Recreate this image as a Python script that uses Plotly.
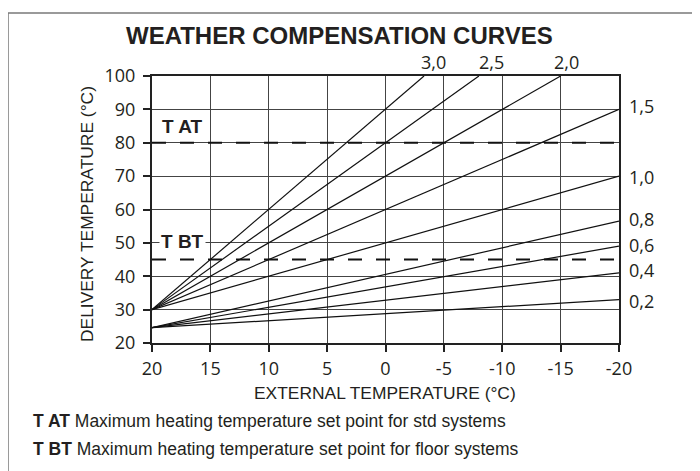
import plotly.graph_objects as go

# ---- data ----
curve_labels = ["3,0", "2,5", "2,0", "1,5", "1,0", "0,8", "0,6", "0,4", "0,2"]
curve_x_start = [20, 20, 20, 20, 20, 20, 20, 20, 20]
curve_y_start = [30, 30, 30, 30, 30, 24.6, 24.6, 24.6, 24.6]
curve_x_end = [-3.3, -8, -15, -20, -20, -20, -20, -20, -20]
curve_y_end = [100, 100, 100, 90, 70, 56.5, 49, 41, 33]

top_label_text = ["3,0", "2,5", "2,0"]
top_label_x = [-4.1, -9.1, -15.5]
right_label_text = ["1,5", "1,0", "0,8", "0,6", "0,4", "0,2"]
right_label_y = [91, 69.6, 57.3, 49.3, 41.8, 32.6]

limit_names = ["T AT", "T BT"]
limit_values = [80, 45]
limit_label_x = [17.4, 17.4]
limit_label_y = [84.9, 50.3]

x_ticks = [20, 15, 10, 5, 0, -5, -10, -15, -20]
y_ticks = [20, 30, 40, 50, 60, 70, 80, 90, 100]

title_text = "WEATHER COMPENSATION CURVES"
x_title = "EXTERNAL TEMPERATURE (°C)"
y_title = "DELIVERY TEMPERATURE (°C)"
notes = [("T AT", "Maximum heating temperature set point for std systems"),
         ("T BT", "Maximum heating temperature set point for floor systems")]

# ---- layout constants (page offset of 8px from the browser body margin) ----
OFF = 8
W, H = 700 - OFF, 471 - OFF
ML, MR, MT, MB = 152 - OFF, 81, 76 - OFF, 128
PW, PH = W - ML - MR, H - MT - MB
TXT = "#231f20"
NUM_FONT = "Open Sans, Noto Sans, sans-serif"
ARIAL = "Liberation Sans, Arial, sans-serif"
NARROW = "Liberation Sans Narrow, Arial Narrow, Liberation Sans, Arial, sans-serif"


def px_x(p):
    return (p - OFF - ML) / PW


def px_y(p):
    return (MT + PH - (p - OFF)) / PH


fig = go.Figure()

for i, name in enumerate(curve_labels):
    fig.add_trace(go.Scatter(
        x=[curve_x_start[i], curve_x_end[i]],
        y=[curve_y_start[i], curve_y_end[i]],
        mode="lines", line=dict(color="#111", width=1.2),
        name=name, showlegend=False, hoverinfo="skip"))

for i, v in enumerate(limit_values):
    fig.add_trace(go.Scatter(
        x=[x_ticks[0], x_ticks[-1]], y=[v, v], mode="lines",
        line=dict(color="#111", width=2, dash="14px,14px"),
        name=limit_names[i], showlegend=False, hoverinfo="skip"))

ann = []
ann.append(dict(text="<b>" + title_text + "</b>", xref="paper", yref="paper",
                x=px_x(339), y=px_y(35), xanchor="center", yanchor="middle",
                showarrow=False, font=dict(family=ARIAL, size=24, color=TXT)))
for t, xv in zip(top_label_text, top_label_x):
    ann.append(dict(text=t, xref="x", yref="paper", x=xv, y=px_y(62),
                    xanchor="center", yanchor="middle", showarrow=False,
                    font=dict(family=NUM_FONT, size=18, color=TXT)))
for t, yv in zip(right_label_text, right_label_y):
    ann.append(dict(text=t, xref="paper", yref="y", x=px_x(627), y=yv,
                    xanchor="left", yanchor="middle", showarrow=False,
                    font=dict(family=NUM_FONT, size=18, color=TXT)))
for n, xv, yv in zip(limit_names, limit_label_x, limit_label_y):
    ann.append(dict(text="<b>" + n + "</b>", xref="x", yref="y", x=xv, y=yv,
                    xanchor="center", yanchor="middle", showarrow=False,
                    bgcolor="white", borderpad=1,
                    font=dict(family=NARROW, size=19, color=TXT)))
ann.append(dict(text=y_title, xref="paper", yref="paper", x=px_x(87),
                y=px_y(214), xanchor="center", yanchor="middle", textangle=-90,
                showarrow=False, font=dict(family=ARIAL, size=17.4, color=TXT)))
ann.append(dict(text=x_title, xref="paper", yref="paper", x=px_x(385),
                y=px_y(393), xanchor="center", yanchor="middle",
                showarrow=False, font=dict(family=ARIAL, size=17.4, color=TXT)))
for k, (b, rest) in enumerate(notes):
    ann.append(dict(text="<b>" + b + "</b> " + rest, xref="paper", yref="paper",
                    x=px_x(31), y=px_y(421 + 28 * k), xanchor="left",
                    yanchor="middle", showarrow=False,
                    font=dict(family=ARIAL, size=17.5, color=TXT)))

axis_common = dict(showgrid=True, gridcolor="#444", gridwidth=1,
                   zeroline=False, showline=True, mirror=True,
                   linecolor="#222", linewidth=2, ticks="outside", ticklen=7,
                   tickcolor="#222", tickwidth=1.5,
                   tickfont=dict(family=NUM_FONT, size=18, color=TXT))

fig.update_layout(
    width=W, height=H, margin=dict(l=ML, r=MR, t=MT, b=MB),
    paper_bgcolor="white", plot_bgcolor="white",
    xaxis=dict(range=[x_ticks[0], x_ticks[-1]], tickvals=x_ticks,
               ticktext=[str(v) for v in x_ticks], ticklabelstandoff=1,
               **axis_common),
    yaxis=dict(range=[y_ticks[0], y_ticks[-1]], tickvals=y_ticks,
               ticklabelstandoff=4, **axis_common),
    annotations=ann,
    shapes=[dict(type="rect", xref="paper", yref="paper",
                 x0=px_x(8), x1=px_x(760), y0=px_y(520), y1=px_y(13),
                 line=dict(color="#7a7a7a", width=1.5), layer="below")],
    showlegend=False,
)

fig.write_html("out.html")
